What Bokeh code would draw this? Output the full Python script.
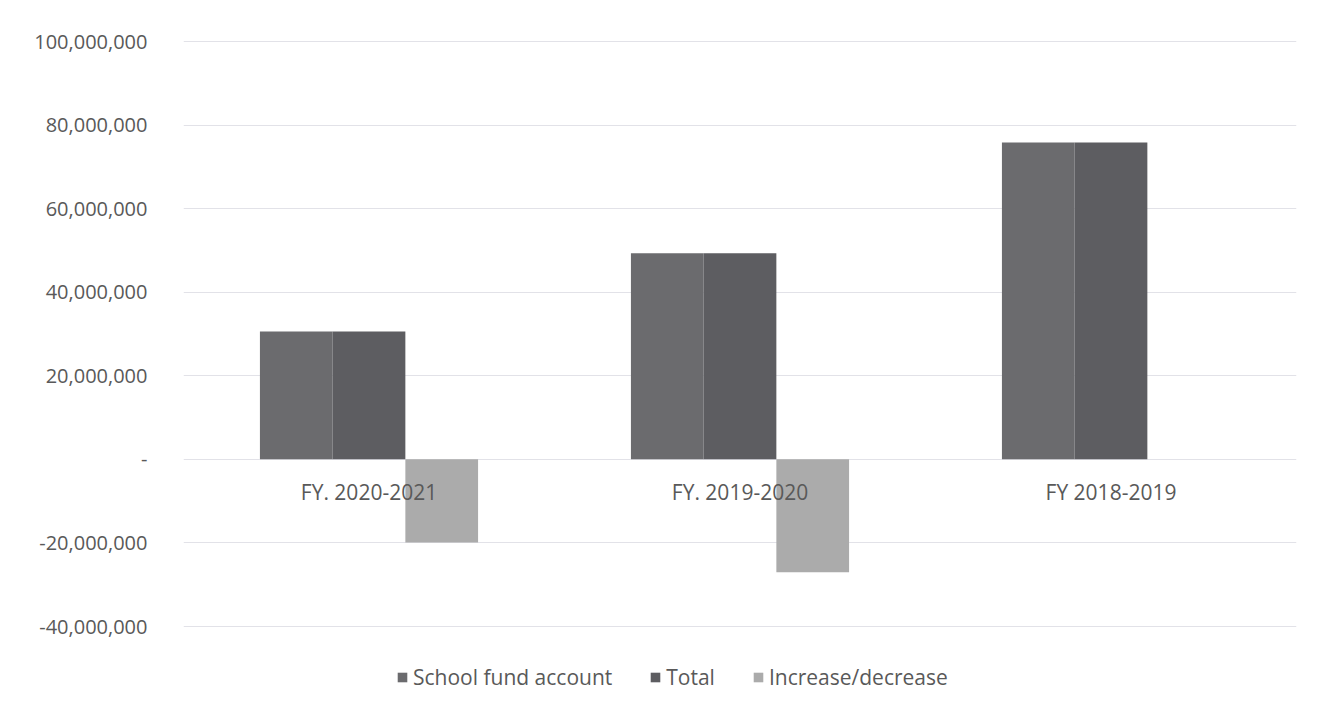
from bokeh.plotting import figure
from bokeh.models import ColumnDataSource, FactorRange, Legend, LegendItem, CustomJSTickFormatter, FixedTicker, Range1d
from bokeh.transform import dodge
from bokeh.core.properties import value
from bokeh.embed import file_html
from bokeh.resources import INLINE

categories = ["FY. 2020-2021", "FY. 2019-2020", "FY 2018-2019"]
school_fund = [30600000, 49300000, 75800000]
total = [30600000, 49300000, 75800000]
change = [-19900000, -27000000, 0]
y_ticks = [-40000000, -20000000, 0, 20000000, 40000000, 60000000, 80000000, 100000000]
series_names = ["School fund account", "Total", "Increase/decrease"]

src = ColumnDataSource(dict(cat=categories, school=school_fund, total=total, change=change,
                            zero=[0] * len(categories)))

FONT = "Open Sans"
TXT = "#595959"

# frame: top at y=40, bottom at y=705; 100M at y=41, -40M at y=626
ppm = 585.0 / 140.0  # pixels per million
y_end = 100e6 + 1.0 / ppm * 1e6
y_start = -40e6 - 79.0 / ppm * 1e6

p = figure(width=1318, height=709, x_range=FactorRange(*categories), y_range=Range1d(y_start, y_end),
           output_backend="svg", toolbar_location=None,
           min_border_left=183, min_border_right=22, min_border_top=40, min_border_bottom=4)
p.outline_line_color = None
p.background_fill_color = "white"
p.border_fill_color = "white"

bw = 0.196
r1 = p.vbar(x=dodge("cat", -bw, range=p.x_range), top="school", width=bw, source=src,
            fill_color="#6b6b6e", line_color=None)
r2 = p.vbar(x=dodge("cat", 0, range=p.x_range), top="total", width=bw, source=src,
            fill_color="#5d5d61", line_color=None)
r3 = p.vbar(x=dodge("cat", bw, range=p.x_range), top="change", width=bw, source=src,
            fill_color="#ababab", line_color=None)

p.text(x="cat", y="zero", text="cat", source=src, text_align="center", text_baseline="middle",
       y_offset=33, text_font=value(FONT), text_font_size="21px", text_color=TXT)

p.xaxis.visible = False
p.xgrid.grid_line_color = None
p.ygrid.grid_line_color = "#e2e2e8"
p.ygrid.grid_line_width = 1
p.yaxis.ticker = FixedTicker(ticks=y_ticks)
p.ygrid.ticker = FixedTicker(ticks=y_ticks)
p.yaxis.formatter = CustomJSTickFormatter(code="""
if (tick == 0) { return "-"; }
var s = Math.abs(Math.round(tick)).toString().replace(/\\B(?=(\\d{3})+(?!\\d))/g, ",");
return (tick < 0 ? "-" : "") + s;
""")
p.yaxis.axis_line_color = None
p.yaxis.major_tick_line_color = None
p.yaxis.minor_tick_line_color = None
p.yaxis.major_label_standoff = 30
p.yaxis.major_label_text_font = FONT
p.yaxis.major_label_text_font_size = "20px"
p.yaxis.major_label_text_color = TXT

legend = Legend(items=[LegendItem(label=series_names[0], renderers=[r1]),
                       LegendItem(label=series_names[1], renderers=[r2]),
                       LegendItem(label=series_names[2], renderers=[r3])],
                orientation="horizontal", location=(213, 14))
legend.border_line_color = None
legend.background_fill_alpha = 0
legend.label_text_font = FONT
legend.label_text_font_size = "21px"
legend.label_text_color = TXT
legend.glyph_width = 12
legend.glyph_height = 12
legend.label_standoff = 5
legend.spacing = 37
legend.padding = 0
legend.margin = 0
p.add_layout(legend, "center")

open("out.html", "w").write(file_html(p, INLINE))
